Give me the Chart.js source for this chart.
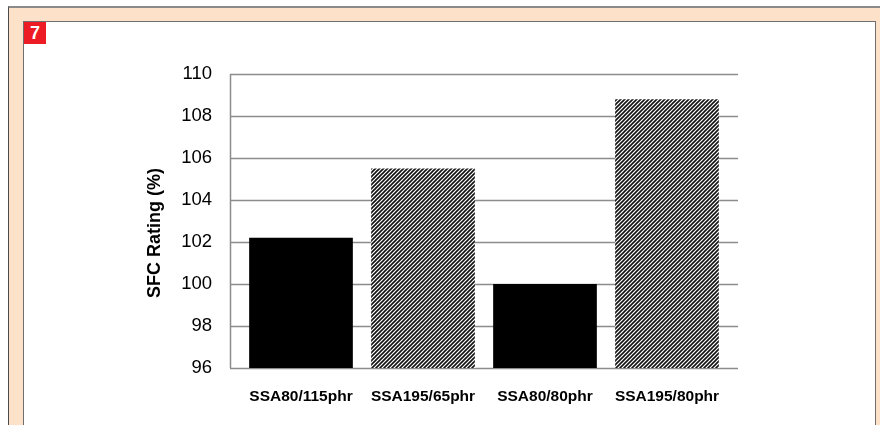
<!DOCTYPE html>
<html>
<head>
<meta charset="utf-8">
<script src="https://cdn.jsdelivr.net/npm/chart.js@4/dist/chart.umd.min.js"></script>
<style>
  html, body { margin: 0; padding: 0; background: #fff; }
  #page { position: relative; width: 880px; height: 425px; overflow: hidden; background: #fff; }
  #frame { position: absolute; left: 8px; top: 6px; width: 880px; height: 440px;
           background: #fde1c9; border-left: 1.5px solid #4a4a4a; border-top: 2px solid #8a8a8a; }
  #panel { position: absolute; left: 23px; top: 21px; width: 851px; height: 440px;
           background: #fff; border: 1.5px solid #6e6e6e; }
  #badge { position: absolute; left: 24px; top: 22px; width: 22px; height: 22px; background: #ed1c24;
           color: #fff; font: bold 18px "Liberation Sans", Arial, sans-serif; text-align: center; line-height: 22px; }
  #chart { position: absolute; left: 0; top: 0; }
</style>
</head>
<body>
<div id="page">
  <div id="frame"></div>
  <div id="panel"></div>
  <div id="badge">7</div>
  <canvas id="chart" width="880" height="425"></canvas>
</div>
<script>
// Compound / filler loading variants and their SFC rating
const categories = ['SSA80/115phr', 'SSA195/65phr', 'SSA80/80phr', 'SSA195/80phr'];
const sfcRating = [102.2, 105.5, 100.0, 108.8];
const hatched = [false, true, false, true];
const yTicks = [96, 98, 100, 102, 104, 106, 108, 110];
const yTitle = 'SFC Rating (%)';

// Diagonal hatch fill for the high-surface-area silica bars
function hatchPattern() {
  const c = document.createElement('canvas');
  c.width = 4; c.height = 4;
  const g = c.getContext('2d');
  g.fillStyle = '#fff';
  g.fillRect(0, 0, 4, 4);
  g.strokeStyle = '#111';
  g.lineWidth = 1.6;
  g.beginPath();
  g.moveTo(-1, 5); g.lineTo(5, -1);
  g.moveTo(-1, 1); g.lineTo(1, -1);
  g.moveTo(3, 5); g.lineTo(5, 3);
  g.stroke();
  return g.createPattern(c, 'repeat');
}
const hatch = hatchPattern();
const fills = hatched.map(h => h ? hatch : '#000');

const EXT = 10; // gridlines run a little past the outer bars

const frameLines = {
  id: 'frameLines',
  beforeDatasetsDraw(chart) {
    const { ctx, chartArea, scales } = chart;
    const y = scales.y;
    ctx.save();
    ctx.strokeStyle = '#8c8c8c';
    ctx.lineWidth = 1.5;
    yTicks.forEach(v => {
      const py = Math.round(y.getPixelForValue(v)) + 0.5;
      ctx.beginPath();
      ctx.moveTo(chartArea.left - EXT, py);
      ctx.lineTo(chartArea.right + EXT, py);
      ctx.stroke();
    });
    const ax = Math.round(chartArea.left - EXT) + 0.5;
    ctx.beginPath();
    ctx.moveTo(ax, y.getPixelForValue(yTicks[yTicks.length - 1]));
    ctx.lineTo(ax, y.getPixelForValue(yTicks[0]));
    ctx.stroke();
    ctx.restore();
  },
  afterDraw(chart) {
    const { ctx } = chart;
    ctx.save();
    ctx.translate(155, 233);
    ctx.rotate(-Math.PI / 2);
    ctx.fillStyle = '#000';
    ctx.font = 'bold 18px "Liberation Sans", Arial, sans-serif';
    ctx.textAlign = 'center';
    ctx.textBaseline = 'middle';
    ctx.fillText(yTitle, 0, 0);
    ctx.restore();
  }
};

new Chart(document.getElementById('chart'), {
  type: 'bar',
  data: {
    labels: categories,
    datasets: [{
      data: sfcRating,
      backgroundColor: fills,
      borderColor: '#555',
      borderWidth: 0,
      barPercentage: 0.85,
      categoryPercentage: 1.0
    }]
  },
  options: {
    responsive: false,
    animation: false,
    events: [],
    layout: { padding: { left: 140, right: 152, top: 74, bottom: 0 } },
    plugins: { legend: { display: false }, tooltip: { enabled: false } },
    scales: {
      x: {
        grid: { display: false },
        border: { display: false },
        ticks: {
          color: '#000',
          padding: 11,
          maxRotation: 0,
          font: { family: '"Liberation Sans", Arial, sans-serif', size: 15.5, weight: 'bold' }
        },
        afterFit(s) { s.height = 57; }
      },
      y: {
        min: 96,
        max: 110,
        grid: { display: false },
        border: { display: false },
        afterBuildTicks(s) { s.ticks = yTicks.map(v => ({ value: v })); },
        ticks: {
          color: '#000',
          padding: 20,
          font: { family: '"Liberation Sans", Arial, sans-serif', size: 18.5 }
        },
        afterFit(s) { s.width = 100; }
      }
    }
  },
  plugins: [frameLines]
});
</script>
</body>
</html>
